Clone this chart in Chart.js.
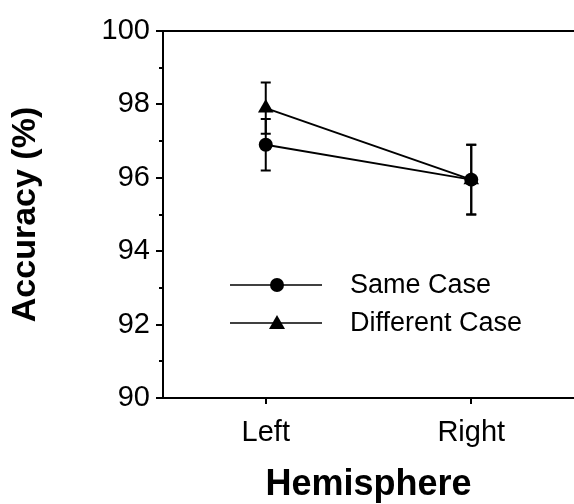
<!DOCTYPE html>
<html>
<head>
<meta charset="utf-8">
<script src="https://cdn.jsdelivr.net/npm/chart.js@4/dist/chart.umd.min.js"></script>
<style>
    html, body { margin: 0; padding: 0; background: #fff; }
    #wrap { width: 574px; height: 504px; }
</style>
</head>
<body>
<div id="wrap"><canvas id="chart" width="574" height="504"></canvas></div>
<script>
// -------------------------------
// Daten
// -------------------------------
const hemispheres = ["Left", "Right"];
const sameCase = [96.9, 95.95];
const sameCaseErr = [0.7, 0.95];
const diffCase = [97.9, 95.95];
const diffCaseErr = [0.7, 0.95];
const yTicks = [90, 92, 94, 96, 98, 100];

const FONT = "'Liberation Sans', Arial, Helvetica, sans-serif";

// -------------------------------
// Fehlerbalken + Achsen-Ticks + Legende
// -------------------------------
const extras = {
    id: "extras",
    beforeDatasetsDraw(chart) {
        const ctx = chart.ctx;
        const x = chart.scales.x, y = chart.scales.y;
        ctx.save();
        ctx.strokeStyle = "#000";
        ctx.lineWidth = 2;
        const bars = [[sameCase, sameCaseErr], [diffCase, diffCaseErr]];
        bars.forEach(([vals, errs]) => {
            vals.forEach((v, i) => {
                const px = x.getPixelForValue(i);
                const top = y.getPixelForValue(v + errs[i]);
                const bot = y.getPixelForValue(v - errs[i]);
                ctx.beginPath();
                ctx.moveTo(px, top); ctx.lineTo(px, bot);
                ctx.moveTo(px - 5, top); ctx.lineTo(px + 5, top);
                ctx.moveTo(px - 5, bot); ctx.lineTo(px + 5, bot);
                ctx.stroke();
            });
        });
        ctx.restore();
    },
    afterDraw(chart) {
        const ctx = chart.ctx;
        const x = chart.scales.x, y = chart.scales.y;
        const area = chart.chartArea;
        ctx.save();
        ctx.strokeStyle = "#000";
        ctx.lineWidth = 2;
        // y ticks (major + minor)
        for (let v = 90; v <= 100; v++) {
            const py = Math.round(y.getPixelForValue(v));
            const len = v % 2 === 0 ? 7 : 4;
            ctx.beginPath();
            ctx.moveTo(area.left - len, py); ctx.lineTo(area.left, py);
            ctx.stroke();
        }
        // x ticks
        hemispheres.forEach((h, i) => {
            const px = Math.round(x.getPixelForValue(i));
            ctx.beginPath();
            ctx.moveTo(px, area.bottom); ctx.lineTo(px, area.bottom + 6);
            ctx.stroke();
        });

        // Legende
        const lx0 = area.left + 67, lx1 = area.left + 159, mx = area.left + 114;
        const rows = [
            { y: area.top + 254, label: "Same Case", style: "circle" },
            { y: area.top + 292, label: "Different Case", style: "triangle" }
        ];
        ctx.lineWidth = 1.5;
        ctx.fillStyle = "#000";
        ctx.font = "27px " + FONT;
        ctx.textBaseline = "middle";
        rows.forEach(r => {
            ctx.beginPath();
            ctx.moveTo(lx0, r.y); ctx.lineTo(lx1, r.y);
            ctx.stroke();
            ctx.beginPath();
            if (r.style === "circle") {
                ctx.arc(mx, r.y, 7, 0, Math.PI * 2);
            } else {
                ctx.moveTo(mx, r.y - 8);
                ctx.lineTo(mx + 8, r.y + 6);
                ctx.lineTo(mx - 8, r.y + 6);
                ctx.closePath();
            }
            ctx.fill();
            ctx.fillText(r.label, area.left + 187, r.y + 1);
        });
        ctx.restore();
    }
};

// -------------------------------
// Chart
// -------------------------------
new Chart(document.getElementById("chart"), {
    type: "line",
    data: {
        labels: hemispheres,
        datasets: [
            {
                label: "Same Case",
                data: sameCase,
                borderColor: "#000",
                backgroundColor: "#000",
                borderWidth: 2,
                pointStyle: "circle",
                pointRadius: 7,
                pointBorderWidth: 0
            },
            {
                label: "Different Case",
                data: diffCase,
                borderColor: "#000",
                backgroundColor: "#000",
                borderWidth: 2,
                pointStyle: "triangle",
                pointRadius: 9,
                pointBorderWidth: 0
            }
        ]
    },
    options: {
        responsive: false,
        animation: false,
        events: [],
        layout: { autoPadding: false, padding: { top: 31, right: 0, bottom: 0, left: 0 } },
        plugins: {
            legend: { display: false },
            tooltip: { enabled: false }
        },
        scales: {
            x: {
                type: "category",
                offset: true,
                grid: { display: false, drawTicks: false },
                border: { display: true, color: "#000", width: 2 },
                ticks: {
                    color: "#000",
                    font: { family: FONT, size: 29 },
                    padding: 18,
                    maxRotation: 0
                },
                title: {
                    display: true,
                    text: "Hemisphere",
                    color: "#000",
                    font: { family: FONT, size: 36, weight: "bold", lineHeight: 1 },
                    padding: { top: 0, bottom: 1 }
                },
                afterFit: s => { s.height = 106; }
            },
            y: {
                min: 90,
                max: 100,
                afterBuildTicks: s => { s.ticks = yTicks.map(v => ({ value: v })); },
                grid: {
                    drawTicks: false,
                    color: c => (c.tick && c.tick.value === 100 ? "#000" : "rgba(0,0,0,0)"),
                    lineWidth: 2
                },
                border: { display: true, color: "#000", width: 2 },
                ticks: {
                    color: "#000",
                    font: { family: FONT, size: 29 },
                    padding: 13
                },
                title: {
                    display: true,
                    text: "Accuracy (%)",
                    color: "#000",
                    font: { family: FONT, size: 34, weight: "bold", lineHeight: 1 },
                    padding: { top: 9, bottom: 0 }
                },
                afterFit: s => { s.width = 163; }
            }
        }
    },
    plugins: [extras]
});
</script>
</body>
</html>
